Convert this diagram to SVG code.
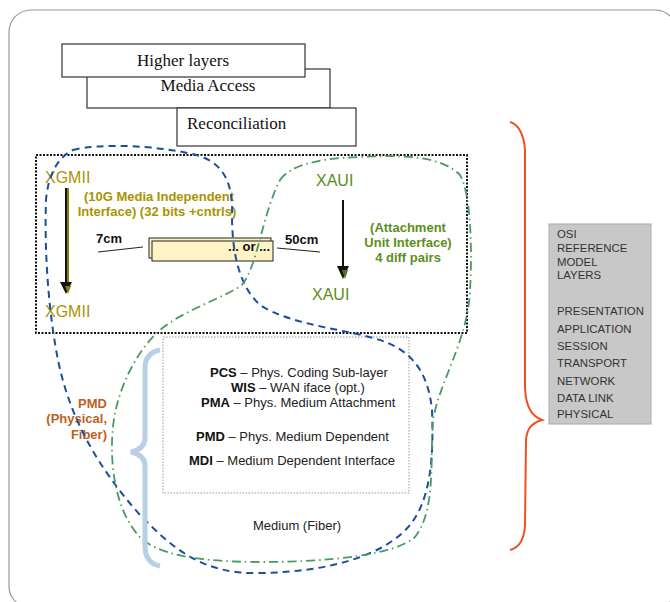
<svg xmlns="http://www.w3.org/2000/svg" width="670" height="602" viewBox="0 0 670 602">
<defs>
<style>
.serif{font-family:"Liberation Serif","Times New Roman",serif;font-size:17px;fill:#111}
.sans{font-family:"Liberation Sans",Arial,sans-serif}
.layer{fill:#fff;stroke:#333;stroke-width:1.2}
.olive{fill:#a89400}
.green{fill:#5b8f1b}
.b13{font-size:13px;font-weight:bold}
.r13{font-size:13px;fill:#222}
.osi{font-size:11.4px;fill:#333}
.thin{stroke:#222;stroke-width:1;fill:none}
</style>
</defs>
<rect x="9" y="10" width="668" height="598" rx="22" fill="#fff" stroke="#999" stroke-width="1.2"/>

<g id="medium-access-stack">
<g id="media-access"><rect class="layer" x="87" y="69" width="243" height="39"/><text class="serif" x="208" y="91" text-anchor="middle">Media Access</text></g>
<g id="higher-layers"><rect class="layer" x="62" y="44" width="243" height="33"/><text class="serif" x="183" y="66" text-anchor="middle">Higher layers</text></g>
<g id="reconciliation"><rect class="layer" x="177" y="108" width="179" height="38"/><text class="serif" x="187" y="129">Reconciliation</text></g>
</g>

<g id="interface-box">
<rect x="36" y="155" width="431" height="178" fill="none" stroke="#111" stroke-width="2" stroke-dasharray="2,1.5"/>
<text class="sans olive" x="45" y="183" font-size="16">XGMII</text>
<text class="sans olive" x="45" y="317" font-size="16">XGMII</text>
<text class="sans olive b13" x="159" y="201" text-anchor="middle">(10G Media Independent</text>
<text class="sans olive b13" x="157" y="216" text-anchor="middle">Interface) (32 bits +cntrls)</text>
<text class="sans green" x="316" y="186" font-size="16">XAUI</text>
<text class="sans green" x="312" y="300" font-size="16">XAUI</text>
<text class="sans green b13" x="408" y="232" text-anchor="middle">(Attachment</text>
<text class="sans green b13" x="408" y="247" text-anchor="middle">Unit Interface)</text>
<text class="sans green b13" x="408" y="262" text-anchor="middle">4 diff pairs</text>
<text class="sans b13" x="96" y="243" fill="#111">7cm</text>
<text class="sans b13" x="285" y="244" fill="#111">50cm</text>
</g>

<g id="or-box">
<rect x="149" y="238" width="122" height="20" fill="#fdf3c4" stroke="#222" stroke-width="1"/>
<rect x="152" y="241" width="121" height="20" fill="#fdf3c4" stroke="#222" stroke-width="1"/>
<text class="sans b13" x="270" y="251" text-anchor="end" fill="#111">... or ...</text>
</g>

<g id="sublayer-box">
<rect x="163" y="337" width="246" height="156" fill="none" stroke="#bbb" stroke-width="1.5" stroke-dasharray="1.5,1.5"/>
<text class="sans r13" x="210" y="377"><tspan font-weight="bold" fill="#111">PCS</tspan> – Phys. Coding Sub-layer</text>
<text class="sans r13" x="231" y="392"><tspan font-weight="bold" fill="#111">WIS</tspan> – WAN iface (opt.)</text>
<text class="sans r13" x="201" y="407"><tspan font-weight="bold" fill="#111">PMA</tspan> – Phys. Medium Attachment</text>
<text class="sans r13" x="196" y="441"><tspan font-weight="bold" fill="#111">PMD</tspan> – Phys. Medium Dependent</text>
<text class="sans r13" x="189" y="465"><tspan font-weight="bold" fill="#111">MDI</tspan> – Medium Dependent Interface</text>
</g>

<g id="medium">
<text class="sans r13" x="253" y="530">Medium (Fiber)</text>
</g>

<g id="pmd-label">
<text class="sans b13" x="107" y="408" text-anchor="end" fill="#c0601e">PMD</text>
<text class="sans b13" x="107" y="423" text-anchor="end" fill="#c0601e">(Physical,</text>
<text class="sans b13" x="107" y="439" text-anchor="end" fill="#c0601e">Fiber)</text>
</g>

<g id="osi-box">
<rect x="549" y="224" width="102" height="200" fill="#c8c8c8" stroke="#aaa" stroke-width="1"/>
<g class="sans osi">
<text x="557" y="238">OSI</text>
<text x="557" y="252">REFERENCE</text>
<text x="557" y="266">MODEL</text>
<text x="557" y="279">LAYERS</text>
<text x="557" y="315">PRESENTATION</text>
<text x="557" y="333">APPLICATION</text>
<text x="557" y="350">SESSION</text>
<text x="557" y="367">TRANSPORT</text>
<text x="557" y="385">NETWORK</text>
<text x="557" y="402">DATA LINK</text>
<text x="557" y="418">PHYSICAL</text>
</g>
</g>

<g id="loops">
<path d="M73,150 C100,143 160,145 200,156 C225,165 233,185 232,215 C232,250 238,285 260,305 C290,325 350,330 380,340 C410,350 428,370 432,410 C434,460 430,500 410,525 C385,555 330,572 260,573 C200,575 170,545 140,515 C100,470 70,420 58,360 C50,320 44,260 46,200 C48,175 58,157 73,150 Z" fill="none" stroke="#1a4f9c" stroke-width="2" stroke-dasharray="7,5"/>
<path d="M280,180 C290,165 320,158 360,157 C400,155 440,155 460,175 C472,195 472,260 470,290 C468,340 440,380 433,420 C430,460 436,510 415,537 C395,555 330,562 260,562 C200,562 155,555 138,535 C112,505 108,450 115,413 C122,380 140,345 165,326 C190,308 225,297 242,285 C258,265 262,215 280,180 Z" fill="none" stroke="#4a9a64" stroke-width="1.8" stroke-dasharray="9,4,1.5,4"/>
</g>

<g id="braces">
<path d="M160,350 C150,352 145,358 145,368 L145,438 C145,446 140,450 131,452 C140,454 145,458 145,466 L145,546 C145,558 150,564 160,566" fill="none" stroke="#b9cfe6" stroke-width="5"/>
<path d="M510,122 C518,124 524,134 525,150 L525,388 C526,408 532,416 542,420 C532,423 527,428 526,440 L525,526 C524,540 518,548 510,550" fill="none" stroke="#f05020" stroke-width="2"/>
</g>

<g id="connectors">
<line class="thin" x1="98" y1="252" x2="143" y2="247"/>
<line class="thin" x1="277" y1="248" x2="320" y2="252"/>
<line x1="66" y1="188" x2="66" y2="284" stroke="#111" stroke-width="2"/>
<line x1="68" y1="188" x2="68" y2="284" stroke="#8a7a00" stroke-width="2"/>
<polygon points="60,282 72,282 66,294" fill="#111"/>
<polygon points="65,286 71,286 68,294" fill="#8a7a00"/>
<line x1="343" y1="200" x2="343" y2="268" stroke="#111" stroke-width="2"/>
<polygon points="337,266 349,266 343,279" fill="#111"/>
<polygon points="342,270 348,270 345,279" fill="#4d7a17"/>
</g>
</svg>
